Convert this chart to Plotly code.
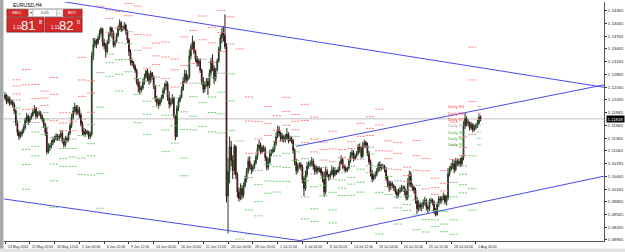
import plotly.graph_objects as go

# ---------------- data ----------------
symbol_title = "EURUSD,H4"
date_labels = ["23 May 2016", "25 May 20:00", "30 May 12:00", "2 Jun 04:00", "6 Jun 20:00",
               "9 Jun 12:00", "14 Jun 04:00", "16 Jun 20:00", "21 Jun 12:00", "24 Jun 04:00",
               "28 Jun 20:00", "1 Jul 12:00", "6 Jul 04:00", "8 Jul 20:00", "13 Jul 12:00",
               "18 Jul 04:00", "20 Jul 20:00", "25 Jul 12:00", "28 Jul 04:00", "1 Aug 20:00"]
label_bars = [0, 16, 32, 48, 64, 80, 96, 112, 128, 144, 160, 176, 192, 208, 224, 240, 256, 272, 288, 304]
price_ticks = [1.14365, 1.14065, 1.13765, 1.13465, 1.13165, 1.12865, 1.12565, 1.12265, 1.11965,
               1.11665, 1.11365, 1.11065, 1.10765, 1.10465, 1.10165, 1.09865, 1.09565, 1.09265, 1.08965]

# bars per trading day (23 May .. 2 Aug, H4)
day_bars = [5] + [6] * 50 + [3]

first_open = 11230  # price * 10000
closes = [
    11238, 11222, 11230, 11218, 11222,
    11215, 11200, 11172, 11150, 11140, 11146,
    11152, 11160, 11178, 11188, 11176, 11184,
    11190, 11198, 11206, 11188, 11194, 11196,
    11188, 11180, 11168, 11150, 11104, 11115,
    11118, 11126, 11132, 11136, 11142, 11136,
    11140, 11148, 11130, 11120, 11136, 11132,
    11148, 11166, 11186, 11200, 11210, 11196,
    11204, 11190, 11170, 11152, 11146, 11152,
    11150, 11140, 11146, 11330, 11356, 11366,
    11360, 11372, 11384, 11394, 11362, 11354,
    11340, 11362, 11380, 11396, 11386, 11356,
    11362, 11378, 11396, 11408, 11392, 11396,
    11402, 11388, 11368, 11340, 11318, 11314,
    11306, 11296, 11268, 11258, 11250, 11254,
    11268, 11280, 11294, 11284, 11270, 11290,
    11280, 11258, 11230, 11220, 11216, 11226,
    11232, 11248, 11258, 11264, 11232, 11216,
    11222, 11230, 11190, 11140, 11208, 11224,
    11232, 11250, 11270, 11288, 11274, 11280,
    11330, 11352, 11362, 11340, 11322, 11312,
    11318, 11296, 11270, 11252, 11262, 11270,
    11260, 11290, 11318, 11300, 11276, 11296,
    11318, 11346, 11372, 11386, 11378, 11352,
    11000, 11058, 11116, 11084, 11060, 11116,
    11050, 11010, 10994, 11018, 11002, 11024,
    11040, 11058, 11082, 11070, 11062, 11068,
    11078, 11092, 11112, 11120, 11104, 11114,
    11110, 11090, 11068, 11080, 11100, 11104,
    11110, 11124, 11140, 11156, 11148, 11134,
    11140, 11132, 11136, 11146, 11130, 11136,
    11130, 11108, 11080, 11060, 11070, 11074,
    11068, 11040, 11018, 11050, 11070, 11074,
    11078, 11082, 11070, 11058, 11066, 11060,
    11064, 11054, 11040, 11010, 11058, 11050,
    11046, 11052, 11062, 11050, 11060, 11056,
    11062, 11076, 11086, 11070, 11066, 11060,
    11066, 11082, 11096, 11102, 11088, 11094,
    11100, 11116, 11110, 11094, 11120, 11126,
    11120, 11100, 11080, 11054, 11040, 11046,
    11050, 11060, 11074, 11066, 11070, 11070,
    11062, 11042, 11030, 11020, 11030, 11024,
    11020, 11010, 11002, 11010, 11014, 11020,
    11020, 11010, 10996, 11030, 11050, 11026,
    11020, 11014, 10990, 10970, 10980, 10974,
    10976, 10986, 10990, 10974, 10970, 10988,
    10990, 10984, 10966, 10956, 10980, 10994,
    10990, 10994, 11000, 10986, 10996, 11052,
    11062, 11070, 11076, 11062, 11082, 11076,
    11082, 11076, 11090, 11165, 11182, 11172,
    11172, 11160, 11168, 11156, 11162, 11166,
    11172, 11186, 11181.8,
]
highs = [
    11245, 11240, 11236, 11234, 11228,
    11226, 11220, 11204, 11178, 11156, 11152,
    11158, 11166, 11184, 11196, 11192, 11188,
    11196, 11204, 11214, 11210, 11200, 11202,
    11200, 11192, 11184, 11172, 11162, 11124,
    11124, 11132, 11140, 11142, 11148, 11146,
    11146, 11156, 11154, 11136, 11142, 11140,
    11152, 11172, 11194, 11210, 11220, 11214,
    11214, 11210, 11196, 11176, 11160, 11158,
    11156, 11154, 11152, 11340, 11372, 11372,
    11370, 11378, 11392, 11398, 11396, 11370,
    11360, 11368, 11386, 11400, 11398, 11390,
    11368, 11384, 11402, 11416, 11412, 11400,
    11410, 11406, 11392, 11372, 11346, 11324,
    11318, 11310, 11300, 11276, 11270, 11260,
    11276, 11288, 11298, 11300, 11290, 11296,
    11292, 11284, 11262, 11236, 11230, 11232,
    11238, 11254, 11266, 11272, 11270, 11246,
    11230, 11240, 11234, 11192, 11214, 11230,
    11238, 11258, 11280, 11298, 11296, 11286,
    11346, 11358, 11378, 11366, 11344, 11330,
    11324, 11324, 11300, 11280, 11270, 11278,
    11278, 11298, 11326, 11334, 11308, 11302,
    11324, 11352, 11380, 11396, 11400, 11428,
    11360, 11090, 11140, 11130, 11096, 11122,
    11120, 11056, 11020, 11030, 11026, 11032,
    11048, 11066, 11092, 11094, 11076, 11074,
    11084, 11098, 11122, 11132, 11126, 11118,
    11120, 11116, 11094, 11090, 11110, 11110,
    11116, 11130, 11150, 11166, 11164, 11152,
    11148, 11144, 11146, 11160, 11150, 11142,
    11140, 11134, 11112, 11088, 11078, 11080,
    11080, 11074, 11046, 11060, 11080, 11082,
    11084, 11092, 11088, 11076, 11072, 11070,
    11070, 11068, 11058, 11058, 11070, 11064,
    11052, 11058, 11072, 11068, 11068, 11062,
    11068, 11082, 11096, 11092, 11074, 11070,
    11070, 11088, 11104, 11110, 11108, 11100,
    11106, 11122, 11124, 11116, 11128, 11132,
    11130, 11126, 11106, 11086, 11062, 11052,
    11058, 11066, 11080, 11082, 11076, 11076,
    11074, 11068, 11048, 11036, 11036, 11034,
    11028, 11024, 11016, 11018, 11022, 11026,
    11026, 11024, 11016, 11042, 11060, 11058,
    11030, 11024, 11020, 10998, 10990, 10986,
    10984, 10992, 10998, 10994, 10980, 10994,
    10996, 10994, 10990, 10972, 10986, 11000,
    11000, 11000, 11008, 11004, 11002, 11066,
    11070, 11078, 11086, 11084, 11090, 11088,
    11088, 11090, 11096, 11176, 11196, 11188,
    11180, 11176, 11174, 11172, 11168, 11172,
    11180, 11194, 11190,
]
lows = [
    11226, 11216, 11218, 11212, 11214,
    11208, 11194, 11165, 11142, 11132, 11136,
    11140, 11148, 11156, 11172, 11168, 11172,
    11180, 11186, 11194, 11182, 11184, 11188,
    11182, 11174, 11160, 11142, 11098, 11100,
    11106, 11112, 11120, 11126, 11130, 11130,
    11130, 11136, 11124, 11114, 11116, 11126,
    11128, 11144, 11160, 11180, 11194, 11190,
    11192, 11184, 11164, 11144, 11140, 11140,
    11144, 11134, 11134, 11140, 11320, 11350,
    11348, 11356, 11368, 11378, 11352, 11346,
    11326, 11336, 11358, 11376, 11372, 11350,
    11350, 11360, 11374, 11390, 11386, 11388,
    11392, 11380, 11360, 11330, 11308, 11306,
    11300, 11290, 11262, 11244, 11240, 11244,
    11250, 11262, 11276, 11270, 11262, 11266,
    11274, 11252, 11222, 11212, 11206, 11212,
    11220, 11228, 11242, 11250, 11224, 11206,
    11210, 11216, 11184, 11131, 11138, 11200,
    11220, 11230, 11248, 11266, 11266, 11270,
    11276, 11322, 11344, 11334, 11316, 11304,
    11306, 11290, 11262, 11242, 11244, 11256,
    11238, 11254, 11282, 11294, 11264, 11270,
    11294, 11314, 11340, 11360, 11364, 11346,
    10985, 10912, 11030, 11070, 11040, 11050,
    11040, 10996, 10987, 10990, 10992, 10996,
    11020, 11032, 11052, 11062, 11052, 11056,
    11064, 11074, 11086, 11106, 11098, 11100,
    11104, 11082, 11060, 11062, 11076, 11094,
    11100, 11104, 11118, 11136, 11140, 11128,
    11128, 11126, 11126, 11132, 11124, 11128,
    11124, 11100, 11072, 11050, 11054, 11064,
    11060, 11030, 11000, 11012, 11044, 11064,
    11068, 11070, 11062, 11050, 11052, 11054,
    11056, 11048, 11032, 10998, 11004, 11044,
    11036, 11040, 11048, 11042, 11046, 11050,
    11054, 11058, 11074, 11064, 11058, 11056,
    11056, 11062, 11078, 11090, 11082, 11084,
    11090, 11096, 11102, 11088, 11090, 11114,
    11112, 11094, 11074, 11046, 11032, 11036,
    11040, 11046, 11056, 11058, 11060, 11064,
    11056, 11036, 11020, 11010, 11014, 11018,
    11012, 11004, 10994, 10996, 11006, 11010,
    11010, 11002, 10990, 10990, 11022, 11020,
    11012, 11006, 10982, 10958, 10964, 10966,
    10964, 10970, 10978, 10966, 10960, 10964,
    10982, 10978, 10958, 10952, 10954, 10974,
    10982, 10984, 10990, 10980, 10978, 10990,
    11046, 11058, 11064, 11054, 11058, 11070,
    11070, 11068, 11070, 11084, 11158, 11164,
    11164, 11154, 11156, 11150, 11152, 11156,
    11160, 11168, 11176,
]

bid_price = 1.11818
ask_price = 1.11820
lot_size = "0.05"

# hand-drawn trend lines: (bar index, price) end points
line_a_bars, line_a_prices = [20, 387], [1.1468, 1.1256]
line_b_bars, line_b_prices = [188, 387], [1.1117, 1.1262]
line_c_bars, line_c_prices = [190.4, 387], [1.0895, 1.1047]
line_d_bars, line_d_prices = [-0.6, 190.4], [1.0993, 1.0895]

# ---------------- build ----------------
C = [c / 10000 for c in closes]
H = [h / 10000 for h in highs]
L = [l / 10000 for l in lows]
O = [first_open / 10000] + C[:-1]
H = [max(h, o, c) for h, o, c in zip(H, O, C)]
L = [min(l, o, c) for l, o, c in zip(L, O, C)]
bars = list(range(len(C)))

W, HGT = 625, 252
PL, PR, PT, PB = 4, 604, 2, 241
X0, X1 = -0.65, 386.7
Y0, Y1 = 1.08941, 1.14570

def px(x):
    return (x - PL) / (PR - PL)

def py(y):
    return (PB - y) / (PB - PT)

fig = go.Figure()

# pivot levels per day from the previous day's H/L/C
starts = []
s = 0
for n in day_bars:
    starts.append(s)
    s += n
piv = {"R": ([], []), "P": ([], []), "S": ([], [])}
last_levels = None
for d in range(1, len(day_bars)):
    ps, pn = starts[d - 1], day_bars[d - 1]
    ph, pl, pc = max(H[ps:ps + pn]), min(L[ps:ps + pn]), C[ps + pn - 1]
    p = (ph + pl + pc) / 3
    r1, s1 = 2 * p - pl, 2 * p - ph
    r2, s2 = p + (ph - pl), p - (ph - pl)
    r3, s3 = ph + 2 * (p - pl), pl - 2 * (ph - p)
    xs0, xs1 = starts[d], starts[d] + day_bars[d] - 1 + 0.4
    for key, lv in (("R", r1), ("R", r2), ("R", r3), ("P", p), ("S", s1), ("S", s2), ("S", s3)):
        piv[key][0].extend([xs0, xs1, None])
        piv[key][1].extend([lv, lv, None])
    last_levels = [("Daily R3", r3, "#ff4040"), ("Daily R2", r2, "#ff4040"), ("Daily R1", r1, "#ff4040"),
                   ("Daily PP", p, "#9a9a9a"), ("Daily S1", s1, "#2fb52f"), ("Daily S2", s2, "#2fb52f"),
                   ("Daily S3", s3, "#2fb52f")]

piv_colors = {"R": "#ff8080", "P": "#a8a8a8", "S": "#6fd06f"}
for key in ("R", "P", "S"):
    fig.add_trace(go.Scatter(x=piv[key][0], y=piv[key][1], mode="lines",
                             line=dict(color=piv_colors[key], width=1, dash="2px,1px"),
                             hoverinfo="skip", showlegend=False))

# bid line
fig.add_shape(type="line", xref="paper", yref="y", x0=0, x1=1, y0=bid_price, y1=bid_price,
              line=dict(color="#d4d4d4", width=1.5), layer="below")

# candles
fig.add_trace(go.Candlestick(
    x=bars, open=O, high=H, low=L, close=C,
    increasing=dict(line=dict(color="#1f3f1f", width=1), fillcolor="#4c8c4c"),
    decreasing=dict(line=dict(color="#3a1515", width=1), fillcolor="#9a3434"),
    whiskerwidth=0, showlegend=False, hoverinfo="skip"))

# trend lines
for bx, by in ((line_a_bars, line_a_prices), (line_b_bars, line_b_prices),
               (line_c_bars, line_c_prices), (line_d_bars, line_d_prices)):
    fig.add_trace(go.Scatter(x=bx, y=by, mode="lines", line=dict(color="#4a4af0", width=1),
                             hoverinfo="skip", showlegend=False))

annotations = []
FONT = "Liberation Sans"

# pivot labels
for txt_, lv, col in last_levels:
    annotations.append(dict(x=298, y=lv, xref="x", yref="y", text=txt_, showarrow=False,
                            xanchor="right", yanchor="middle",
                            font=dict(family=FONT, size=4.3, color=col)))

# date labels
for b, t in zip(label_bars, date_labels):
    annotations.append(dict(x=b, y=py(243), xref="x", yref="paper", text=t, showarrow=False,
                            xanchor="left", yanchor="top", xshift=0.5,
                            font=dict(family=FONT, size=3.5, color="#222")))

# price box on axis
annotations.append(dict(x=1, y=bid_price, xref="paper", yref="y", text=f"{bid_price:.5f}",
                        showarrow=False, xanchor="left", yanchor="middle", xshift=2,
                        bgcolor="#000000", borderpad=0.5,
                        font=dict(family=FONT, size=4.3, color="#ffffff")))

# title
annotations.append(dict(x=px(11), y=py(5.5), xref="paper", yref="paper", text=symbol_title,
                        showarrow=False, xanchor="left", yanchor="middle",
                        font=dict(family=FONT, size=5, color="#000")))

shapes = []
def rect(x0, y0, x1, y1, fill, line="#8a1010"):
    shapes.append(dict(type="rect", xref="paper", yref="paper", x0=px(x0), x1=px(x1),
                       y0=py(y1), y1=py(y0), fillcolor=fill, line=dict(color=line, width=0.6),
                       layer="above"))

# small title icon
rect(5, 3.5, 9, 7.5, "#c8d0e0", "#607090")
# one-click trading panel
rect(6.5, 8.5, 82.5, 32.5, "#f4f4f4", "#b0b0b0")
rect(7, 9.5, 28, 16.5, "#d42a2a")
rect(28.5, 9.5, 33, 16.5, "#ffffff", "#a0a0a0")
rect(33, 9.5, 57, 16.5, "#ffffff", "#a0a0a0")
rect(57, 9.5, 62, 16.5, "#ffffff", "#a0a0a0")
rect(63.5, 9.5, 82, 16.5, "#d42a2a")
rect(7, 17.5, 44, 32, "#d42a2a")
rect(45, 17.5, 82, 32, "#d42a2a")

def txt(x, y, s, size, col="#ffffff", anchor="left"):
    annotations.append(dict(x=px(x), y=py(y), xref="paper", yref="paper", text=s, showarrow=False,
                            xanchor=anchor, yanchor="middle",
                            font=dict(family=FONT, size=size, color=col)))

bid_s, ask_s = f"{bid_price:.5f}", f"{ask_price:.5f}"
txt(17.5, 13, "SELL", 4, anchor="center")
txt(30.7, 13, "▾", 4, "#444", anchor="center")
txt(45, 13, lot_size, 4, "#333", anchor="center")
txt(59.5, 13, "+", 4, "#444", anchor="center")
txt(72.8, 13, "BUY", 4, anchor="center")
txt(11, 27.5, bid_s[:4], 4.5)
txt(19, 25.5, bid_s[4:6], 13)
txt(36.5, 21.5, bid_s[6:], 5.5)
txt(49, 27.5, ask_s[:4], 4.5)
txt(57, 25.5, ask_s[4:6], 13)
txt(74.5, 21.5, ask_s[6:], 5.5)

# window decorations
shapes.append(dict(type="rect", xref="paper", yref="paper", x0=px(0), x1=px(3.5), y0=py(252), y1=py(0),
                   fillcolor="#a8a8a8", line=dict(width=0), layer="below"))
shapes.append(dict(type="rect", xref="paper", yref="paper", x0=px(0), x1=px(625), y0=py(252), y1=py(248.5),
                   fillcolor="#e4e4e4", line=dict(width=0), layer="below"))

fig.update_layout(
    width=W, height=HGT,
    margin=dict(l=PL, r=W - PR, t=PT, b=HGT - PB),
    paper_bgcolor="#ffffff", plot_bgcolor="#ffffff",
    showlegend=False,
    annotations=annotations, shapes=shapes,
    xaxis=dict(range=[X0, X1], rangeslider=dict(visible=False), showgrid=False, zeroline=False,
               tickmode="array", tickvals=label_bars, showticklabels=False,
               ticks="outside", ticklen=2, tickcolor="#333", tickwidth=0.6,
               showline=True, linecolor="#555", linewidth=1),
    yaxis=dict(range=[Y0, Y1], side="right", showgrid=False, zeroline=False,
               tickmode="array", tickvals=price_ticks, ticktext=[f"{v:.5f}" for v in price_ticks],
               ticks="outside", ticklen=2, tickcolor="#333", tickwidth=0.6,
               tickfont=dict(family=FONT, size=4.3, color="#222"),
               showline=True, linecolor="#555", linewidth=1),
)

fig.write_html("out.html")
